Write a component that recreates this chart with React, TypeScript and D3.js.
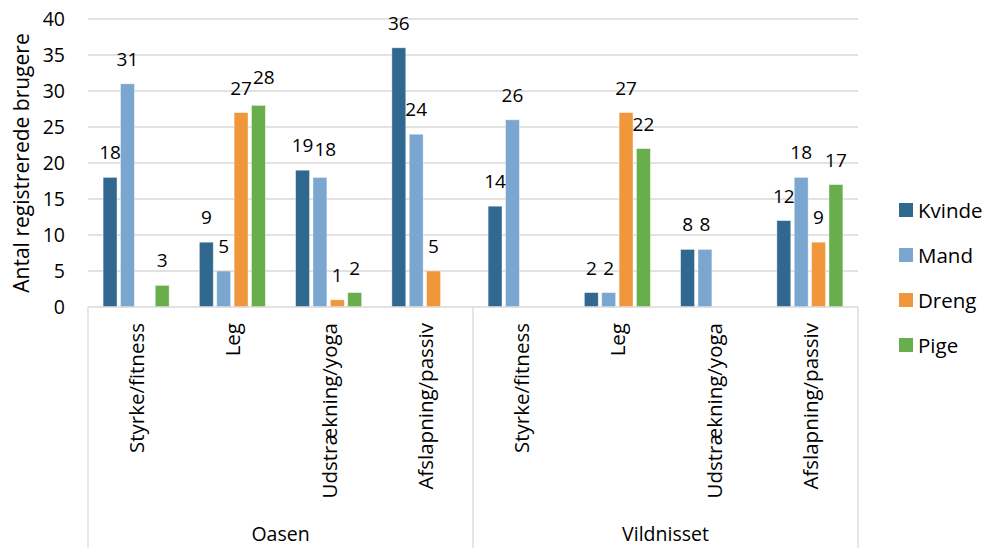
import React, { useRef, useEffect } from 'react';
import * as d3 from 'd3';

// chart data
const groups = ['Oasen', 'Vildnisset'];
const activities = ['Styrke/fitness', 'Leg', 'Udstrækning/yoga', 'Afslapning/passiv'];
const seriesNames = ['Kvinde', 'Mand', 'Dreng', 'Pige'];
const seriesColors = ['#31688f', '#7aa6cf', '#f0963b', '#69ae4c'];

// values per category (Oasen x4, then Vildnisset x4), null = no bar
const kvinde = [18, 9, 19, 36, 14, 2, 8, 12];
const mand = [31, 5, 18, 24, 26, 2, 8, 18];
const dreng = [null, 27, 1, 5, null, 27, null, 9];
const pige = [3, 28, 2, null, null, 22, null, 17];

const yTicks = [0, 5, 10, 15, 20, 25, 30, 35, 40];

const W = 986;
const H = 548;
const FONT = '"Open Sans", sans-serif';

function App() {
  const svgRef = useRef(null);

  useEffect(() => {
    const svg = d3.select(svgRef.current);
    svg.selectAll('*').remove();

    const left = 88, right = 858, top = 19, bottom = 307;
    const allSeries = [kvinde, mand, dreng, pige];
    const cats = groups.flatMap((g) => activities.map((a) => g + '|' + a));

    const x0 = d3.scaleBand().domain(cats).range([left, right]);
    const x1 = d3.scaleBand()
      .domain(seriesNames)
      .range([0, x0.bandwidth()])
      .paddingInner(0.2)
      .paddingOuter(0.87);
    const y = d3.scaleLinear().domain([0, 40]).range([bottom, top]);

    // gridlines
    svg.append('g')
      .selectAll('line')
      .data(yTicks.filter((t) => t > 0))
      .join('line')
      .attr('x1', left)
      .attr('x2', right)
      .attr('y1', (d) => y(d))
      .attr('y2', (d) => y(d))
      .attr('stroke', '#d9d9d9')
      .attr('stroke-width', 1.3);

    // y axis labels
    const yAxis = svg.append('g')
      .attr('transform', `translate(${left - 6},0)`)
      .call(d3.axisLeft(y).tickValues(yTicks).tickSize(0).tickPadding(17));
    yAxis.select('.domain').remove();
    yAxis.selectAll('text')
      .attr('font-family', FONT)
      .attr('font-size', 19.5)
      .attr('fill', '#000');

    svg.append('text')
      .attr('transform', `translate(21,${(top + bottom) / 2}) rotate(-90)`)
      .attr('text-anchor', 'middle')
      .attr('dominant-baseline', 'central')
      .attr('font-family', FONT)
      .attr('font-size', 21)
      .text('Antal registrerede brugere');

    // bars
    const labels = [];
    allSeries.forEach((vals, si) => {
      const name = seriesNames[si];
      const pts = vals
        .map((v, i) => ({ v, cat: cats[i], si }))
        .filter((d) => d.v != null);
      svg.append('g')
        .selectAll('rect')
        .data(pts)
        .join('rect')
        .attr('x', (d) => x0(d.cat) + x1(name))
        .attr('width', x1.bandwidth())
        .attr('y', (d) => y(d.v))
        .attr('height', (d) => bottom - y(d.v))
        .attr('fill', seriesColors[si])
        .attr('stroke', '#ffffff')
        .attr('stroke-opacity', 0.5)
        .attr('stroke-width', 0.8);
      pts.forEach((p) => labels.push(p));
    });

    // value labels, nudged right when they bump into the neighbour in the same group
    const labelG = svg.append('g');
    cats.forEach((cat) => {
      let prevRight = -Infinity;
      let prevTop = 0, prevBottom = 0;
      labels
        .filter((d) => d.cat === cat)
        .sort((a, b) => a.si - b.si)
        .forEach((d) => {
          const cx = x0(cat) + x1(seriesNames[d.si]) + x1.bandwidth() / 2;
          const t = labelG.append('text')
            .attr('x', cx)
            .attr('y', y(d.v) - 18)
            .attr('text-anchor', 'middle')
            .attr('font-family', FONT)
            .attr('font-size', 19)
            .text(d.v);
          const bb = t.node().getBBox();
          const vOverlap = bb.y < prevBottom && bb.y + bb.height > prevTop;
          if (vOverlap && bb.x < prevRight + 1) {
            const dx = prevRight + 1 - bb.x;
            t.attr('x', cx + dx).attr('y', y(d.v) - 21);
          }
          const nb = t.node().getBBox();
          prevRight = nb.x + nb.width;
          prevTop = nb.y;
          prevBottom = nb.y + nb.height;
        });
    });

    // category axis: base line + group separators
    const axisG = svg.append('g').attr('stroke', '#d9d9d9').attr('stroke-width', 1.3);
    axisG.append('line').attr('x1', left).attr('x2', right).attr('y1', bottom).attr('y2', bottom);
    const seps = [left, x0(groups[1] + '|' + activities[0]), right];
    axisG.selectAll('.sep')
      .data(seps)
      .join('line')
      .attr('class', 'sep')
      .attr('x1', (d) => d)
      .attr('x2', (d) => d)
      .attr('y1', bottom)
      .attr('y2', H);

    // rotated activity labels
    svg.append('g')
      .selectAll('text')
      .data(cats)
      .join('text')
      .attr('transform', (d) => `translate(${x0(d) + x0.bandwidth() / 2},323) rotate(-90)`)
      .attr('text-anchor', 'end')
      .attr('dominant-baseline', 'central')
      .attr('font-family', FONT)
      .attr('font-size', 20.5)
      .text((d) => d.split('|')[1]);

    // group labels
    svg.append('g')
      .selectAll('text')
      .data(groups)
      .join('text')
      .attr('x', (g) => {
        const a = x0(g + '|' + activities[0]);
        const b = x0(g + '|' + activities[activities.length - 1]) + x0.bandwidth();
        return (a + b) / 2;
      })
      .attr('y', 541)
      .attr('text-anchor', 'middle')
      .attr('font-family', FONT)
      .attr('font-size', 19.5)
      .text((g) => g);

    // legend
    const legend = svg.append('g')
      .selectAll('g')
      .data(seriesNames)
      .join('g')
      .attr('transform', (d, i) => `translate(899,${210 + i * 45})`);
    legend.append('rect')
      .attr('x', 0)
      .attr('y', -7)
      .attr('width', 14)
      .attr('height', 14)
      .attr('fill', (d, i) => seriesColors[i]);
    legend.append('text')
      .attr('x', 19)
      .attr('y', 0)
      .attr('dominant-baseline', 'central')
      .attr('font-family', FONT)
      .attr('font-size', 20.5)
      .text((d) => d);
  }, []);

  return (
    <svg
      ref={svgRef}
      width={W}
      height={H}
      style={{ position: 'absolute', left: 0, top: 0, background: '#fff' }}
    />
  );
}

export default App;
